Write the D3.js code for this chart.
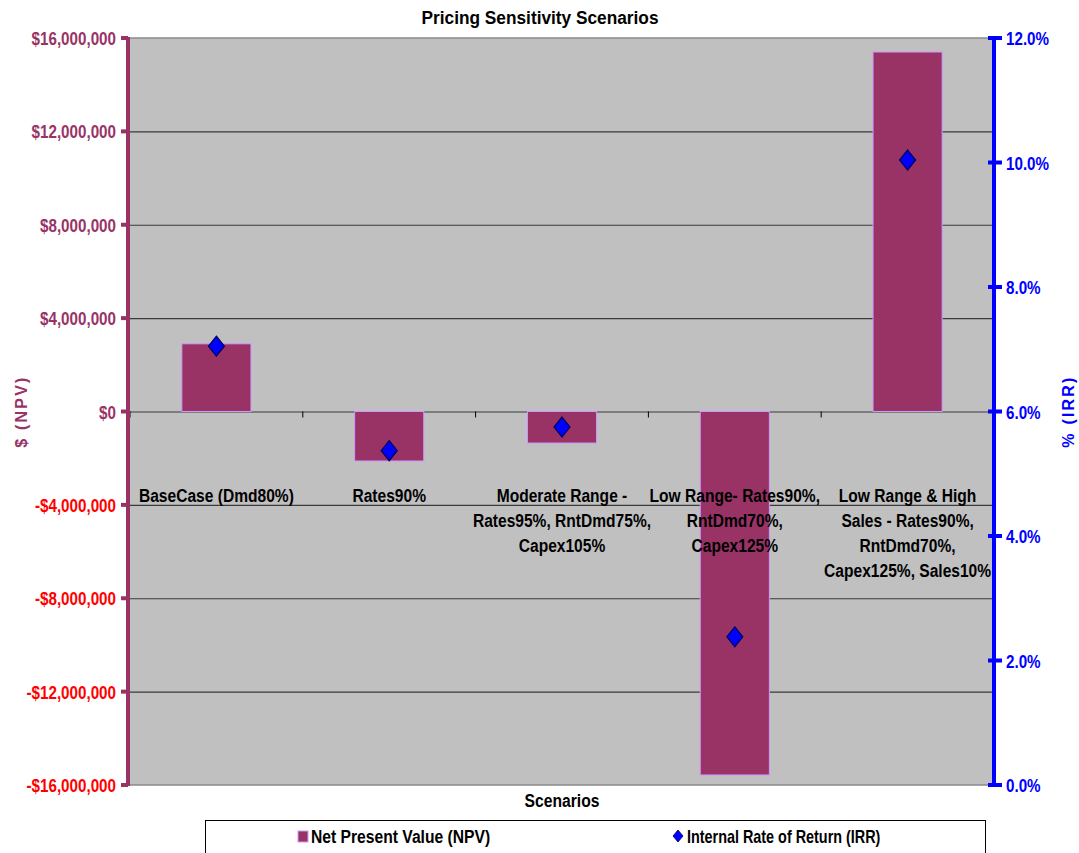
<!DOCTYPE html>
<html>
<head>
<meta charset="utf-8">
<script src="https://cdn.jsdelivr.net/npm/d3@7/dist/d3.min.js"></script>
<style>
  html, body { margin: 0; padding: 0; background: #ffffff; }
  svg { display: block; }
  text { font-family: "Liberation Sans", Arial, sans-serif; font-weight: bold; }
</style>
</head>
<body>
<svg id="chart" width="1079" height="853"></svg>
<script>
// Scenario names (each entry is a list of label lines)
const categories = [
  ["BaseCase (Dmd80%)"],
  ["Rates90%"],
  ["Moderate Range -", "Rates95%, RntDmd75%,", "Capex105%"],
  ["Low Range- Rates90%,", "RntDmd70%,", "Capex125%"],
  ["Low Range & High", "Sales - Rates90%,", "RntDmd70%,", "Capex125%, Sales10%"]
];
// Net present value per scenario, in dollars
const npvValues = [2900000, -2120000, -1350000, -15570000, 15400000];
// Internal rate of return per scenario, in percent
const irrValues = [7.05, 5.37, 5.75, 2.38, 10.04];
// Axis ticks
const npvTicks = [16000000, 12000000, 8000000, 4000000, 0, -4000000, -8000000, -12000000, -16000000];
const irrTicks = [0, 2, 4, 6, 8, 10, 12];
const seriesNames = ["Net Present Value (NPV)", "Internal Rate of Return (IRR)"];

const svg = d3.select("#chart");
const plot = { left: 130, right: 994, top: 38, bottom: 785 };
const SX = 0.8; // default horizontal squeeze applied to the text glyphs

const x = d3.scaleBand()
  .domain(d3.range(categories.length))
  .range([plot.left, plot.right])
  .paddingInner(0.6)
  .paddingOuter(0.3);
const yL = d3.scaleLinear().domain([-16000000, 16000000]).range([plot.bottom, plot.top]);
const yR = d3.scaleLinear().domain([0, 12]).range([plot.bottom, plot.top]);

function squeezedText(g, tx, ty, str, opts) {
  const t = g.append("text")
    .attr("transform", `translate(${tx},${ty}) scale(${opts.sx || SX},1)`)
    .attr("text-anchor", opts.anchor || "middle")
    .attr("font-size", opts.size || 18)
    .attr("fill", opts.fill || "#000")
    .text(str);
  return t;
}

// Plot background
svg.append("rect")
  .attr("x", plot.left).attr("y", plot.top)
  .attr("width", plot.right - plot.left).attr("height", plot.bottom - plot.top)
  .attr("fill", "#c0c0c0");

// Horizontal gridlines
svg.append("g")
  .selectAll("line")
  .data(npvTicks.filter(d => Math.abs(d) < 16000000))
  .join("line")
  .attr("x1", plot.left).attr("x2", plot.right)
  .attr("y1", d => yL(d) + 0.5).attr("y2", d => yL(d) + 0.5)
  .attr("stroke", "#3a3a3a").attr("stroke-width", 1.2);

// Plot frame top/bottom
svg.append("line").attr("x1", plot.left).attr("x2", plot.right)
  .attr("y1", plot.top).attr("y2", plot.top).attr("stroke", "#8a8a8a").attr("stroke-width", 1.5);
svg.append("line").attr("x1", plot.left).attr("x2", plot.right)
  .attr("y1", plot.bottom).attr("y2", plot.bottom).attr("stroke", "#8a8a8a").attr("stroke-width", 1.5);

// Category boundary ticks on the zero line
const step = x.step();
svg.append("g")
  .selectAll("line")
  .data(d3.range(0, categories.length))
  .join("line")
  .attr("x1", i => plot.left + i * step).attr("x2", i => plot.left + i * step)
  .attr("y1", yL(0)).attr("y2", yL(0) + 6)
  .attr("stroke", "#000").attr("stroke-width", 1);

// NPV bars
svg.append("g")
  .selectAll("rect")
  .data(npvValues)
  .join("rect")
  .attr("x", (d, i) => x(i))
  .attr("width", x.bandwidth())
  .attr("y", d => yL(Math.max(0, d)))
  .attr("height", d => Math.abs(yL(d) - yL(0)))
  .attr("fill", "#993366")
  .attr("stroke", "#cc99ff")
  .attr("stroke-width", 1);

// Category labels, drawn over the plot
const catG = svg.append("g");
categories.forEach((lines, i) => {
  const cx = x(i) + x.bandwidth() / 2;
  lines.forEach((ln, j) => {
    squeezedText(catG, cx, 502 + j * 25, ln, { size: 19, sx: 0.82 });
  });
});

// IRR diamonds
const diamond = "M0,-10 L8,0 L0,10 L-8,0 Z";
svg.append("g")
  .selectAll("path")
  .data(irrValues)
  .join("path")
  .attr("d", diamond)
  .attr("transform", (d, i) => `translate(${x(i) + x.bandwidth() / 2},${yR(d)})`)
  .attr("fill", "#0000ff")
  .attr("stroke", "#000050")
  .attr("stroke-width", 1.2);

// Left axis (NPV)
const leftG = svg.append("g");
leftG.append("line")
  .attr("x1", plot.left - 2).attr("x2", plot.left - 2)
  .attr("y1", plot.top - 1).attr("y2", plot.bottom + 1)
  .attr("stroke", "#993366").attr("stroke-width", 4);
const fmtMoney = d => (d < 0 ? "-$" : "$") + d3.format(",")(Math.abs(d));
npvTicks.forEach(d => {
  leftG.append("line")
    .attr("x1", plot.left - 9).attr("x2", plot.left - 2)
    .attr("y1", yL(d)).attr("y2", yL(d))
    .attr("stroke", "#993366").attr("stroke-width", 4);
  squeezedText(leftG, 116, yL(d) + 7, fmtMoney(d), {
    size: 19, anchor: "end", fill: d < 0 ? "#ff0000" : "#993366"
  });
});
leftG.append("text")
  .attr("transform", `translate(27,${yL(0)}) rotate(-90)`)
  .attr("text-anchor", "middle")
  .attr("font-size", 16)
  .attr("letter-spacing", 2.2)
  .attr("fill", "#993366")
  .text("$ (NPV)");

// Right axis (IRR)
const rightG = svg.append("g");
rightG.append("line")
  .attr("x1", plot.right).attr("x2", plot.right)
  .attr("y1", plot.top - 1).attr("y2", plot.bottom + 1)
  .attr("stroke", "#0000ff").attr("stroke-width", 4);
irrTicks.forEach(d => {
  rightG.append("line")
    .attr("x1", plot.right - 6).attr("x2", plot.right + 8)
    .attr("y1", yR(d)).attr("y2", yR(d))
    .attr("stroke", "#0000ff").attr("stroke-width", 4);
  squeezedText(rightG, 1006, yR(d) + 7, d3.format(".1f")(d) + "%", {
    size: 19, anchor: "start", fill: "#0000ff"
  });
});
rightG.append("text")
  .attr("transform", `translate(1074,${yR(6)}) rotate(-90)`)
  .attr("text-anchor", "middle")
  .attr("font-size", 16)
  .attr("letter-spacing", 2.2)
  .attr("fill", "#0000ff")
  .text("% (IRR)");

// Titles
squeezedText(svg, 540, 24, "Pricing Sensitivity Scenarios", { size: 18, sx: 0.96 });
squeezedText(svg, 562, 807, "Scenarios", { size: 18, sx: 0.87 });

// Legend
const lg = svg.append("g");
lg.append("rect")
  .attr("x", 205.5).attr("y", 820.5).attr("width", 780).attr("height", 40)
  .attr("fill", "#ffffff").attr("stroke", "#000").attr("stroke-width", 1);
lg.append("rect")
  .attr("x", 298).attr("y", 831).attr("width", 10).attr("height", 11)
  .attr("fill", "#993366").attr("stroke", "#cc99ff").attr("stroke-width", 1);
squeezedText(lg, 311, 843, seriesNames[0], { size: 18, anchor: "start", sx: 0.87 });
lg.append("path")
  .attr("d", "M0,-6 L5,0 L0,6 L-5,0 Z")
  .attr("transform", "translate(678,836)")
  .attr("fill", "#0000ff").attr("stroke", "#000050").attr("stroke-width", 0.8);
squeezedText(lg, 687, 843, seriesNames[1], { size: 18, anchor: "start", sx: 0.8 });
</script>
</body>
</html>
